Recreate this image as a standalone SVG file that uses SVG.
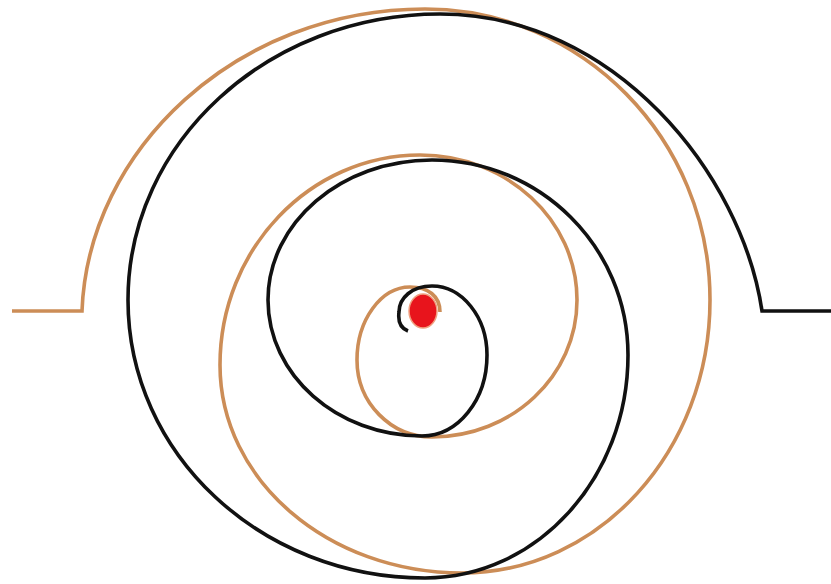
<svg xmlns="http://www.w3.org/2000/svg" width="831" height="584" viewBox="0 0 831 584">
  <style>
    .blk { fill: none; stroke: #111111; stroke-width: 3.6; stroke-linejoin: miter; stroke-linecap: butt; }
    .org { fill: none; stroke: #cc8d57; stroke-width: 3.6; stroke-linejoin: miter; stroke-linecap: butt; }
  </style>
  <rect x="0" y="0" width="831" height="584" fill="#ffffff"/>
  <g id="orange-spiral">
    <path class="org" d="M12,311 L82,311 C88,150 236,9 425,9 C582,9 710,139 710,300 C710,451 599,573 462,573 C328,573 220,480 220,365 C220,249 310,155 420,155 C507,155 577,220 577,300 C577,376 512,437 432,437 C391,437 357,403 357,360 C357,320 381,287 410,287 C428,287 440,296 440,312"/>
  </g>
  <g id="black-spiral">
    <path class="blk" d="M408,331 C400,328 398,320 399,312 C399,298 412,286 432,286 C462,286 487,317 487,355 C487,400 458,436 422,436 C337,436 268,375 268,300 C268,223 341,160 432,160 C540,160 628,247 628,355 C628,478 537,578 425,578 C261,578 128,454 128,300 C128,142 268,14 440,14 C615,14 742,175 762,311 L831,311"/>
  </g>
  <g id="center-dot">
    <ellipse cx="423" cy="311" rx="14" ry="17" fill="#e8141c" stroke="#f0a080" stroke-width="1.5"/>
  </g>
</svg>
